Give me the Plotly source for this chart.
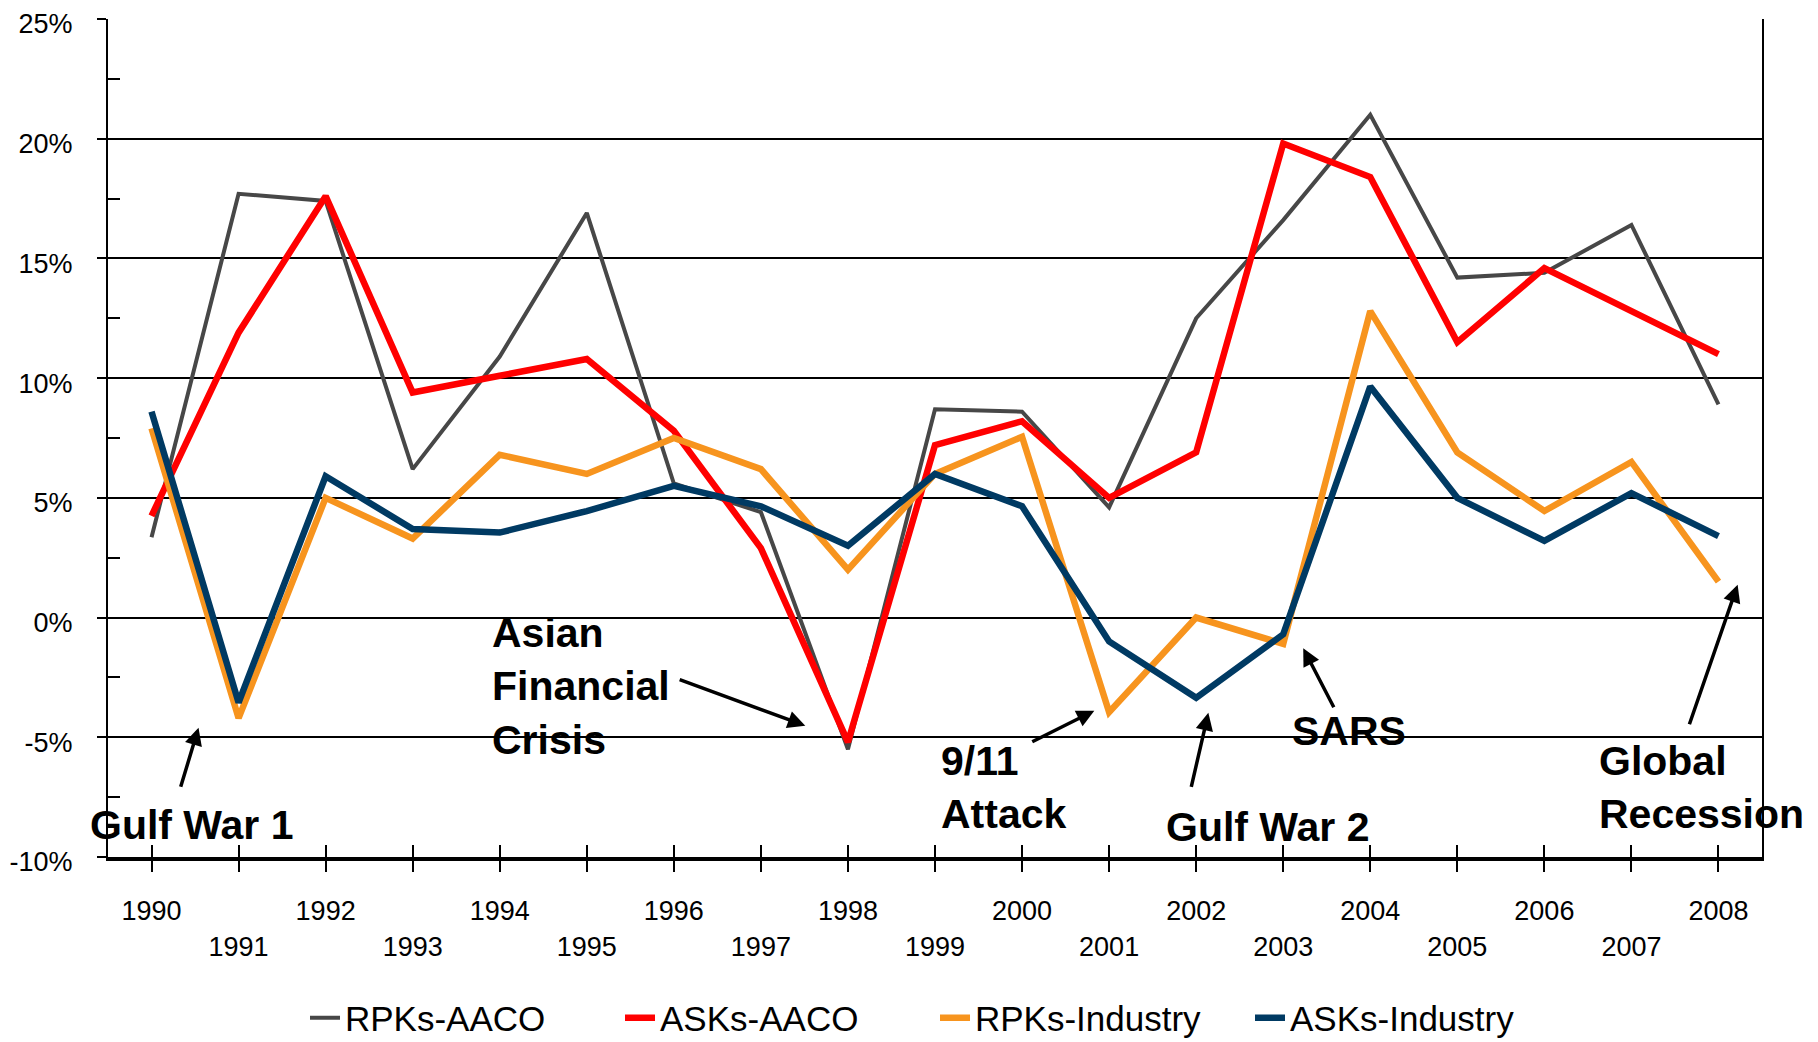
import plotly.graph_objects as go

YEARS = list(range(1990, 2009))

RPK_AACO = [3.35, 17.7, 17.4, 6.2, 10.9, 16.9, 5.6, 4.4, -5.5, 8.7, 8.6, 4.6,
            12.5, 16.6, 21.0, 14.2, 14.4, 16.4, 8.9]
ASK_AACO = [4.25, 11.9, 17.6, 9.4, 10.1, 10.8, 7.8, 2.9, -5.2, 7.2, 8.2, 5.0,
            6.9, 19.8, 18.4, 11.5, 14.6, 12.8, 11.0]
RPK_IND = [7.9, -4.2, 5.0, 3.3, 6.8, 6.0, 7.5, 6.2, 2.0, 6.0, 7.55, -3.95,
           0.0, -1.1, 12.8, 6.9, 4.45, 6.5, 1.5]
ASK_IND = [8.6, -3.55, 5.9, 3.7, 3.55, 4.45, 5.5, 4.65, 3.0, 6.0, 4.65, -1.0,
           -3.35, -0.7, 9.65, 5.0, 3.2, 5.2, 3.4]

SERIES = [
    ("RPKs-AACO", RPK_AACO, "#474747", 4),
    ("ASKs-AACO", ASK_AACO, "#FF0000", 6.5),
    ("RPKs-Industry", RPK_IND, "#F7941E", 6.5),
    ("ASKs-Industry", ASK_IND, "#003A63", 6.5),
]

Y_TICKS = [-10, -5, 0, 5, 10, 15, 20, 25]
Y_LABELS = [f"{v}%" for v in Y_TICKS]
X_LABELS = [str(y) if (y - 1990) % 2 == 0 else "<br>" + str(y) for y in YEARS]

# text, text x, text y, xanchor, arrow head (x, y), arrow tail (x, y)
EVENTS = [
    ("Gulf War 1", 1990.46, -8.66, "center", (1990.54, -4.6), (1990.33, -7.13)),
    ("Asian<br>Financial<br>Crisis", 1993.89, -2.86, "left", (1997.51, -4.52), (1996.05, -2.57)),
    ("9/11<br>Attack", 1999.05, -7.08, "left", (2000.83, -3.89), (2000.10, -5.22)),
    ("Gulf War 2", 2002.83, -8.74, "center", (2002.14, -3.98), (2001.94, -7.13)),
    ("SARS", 2003.76, -4.72, "center", (2003.23, -1.28), (2003.59, -3.81)),
    ("Global<br>Recession", 2006.6, -7.08, "left", (2008.22, 1.37), (2007.66, -4.52)),
]

FONT = "Liberation Sans, Arial, sans-serif"

fig = go.Figure()
for name, vals, cor, w in SERIES:
    fig.add_trace(go.Scatter(
        x=YEARS, y=vals, mode="lines", name=name,
        line=dict(color=cor, width=w),
        hovertemplate=f"<b>{name}</b><br>%{{x}}: %{{y:.1f}}%<extra></extra>",
    ))

# empty trace on an overlay axis, only there to draw the inside half of the x ticks
fig.add_trace(go.Scatter(x=YEARS, y=[None] * len(YEARS), xaxis="x2", showlegend=False,
                         hoverinfo="skip"))

for txt, tx, ty, xa, head, tail in EVENTS:
    fig.add_annotation(x=tx, y=ty, text=f"<b>{txt}</b>", showarrow=False,
                       xanchor=xa, yanchor="middle", align="left",
                       font=dict(family=FONT, size=41, color="black"))
    fig.add_annotation(x=head[0], y=head[1], ax=tail[0], ay=tail[1],
                       axref="x", ayref="y", text="", showarrow=True,
                       arrowhead=2, arrowsize=1, arrowwidth=3.5, arrowcolor="black")

# page body has an 8px margin, so the figure is placed 8px in from the window corner
fig.update_layout(
    width=1810, height=1050,
    margin=dict(l=100, r=56, t=11, b=196),
    plot_bgcolor="white", paper_bgcolor="white",
    showlegend=True,
    legend=dict(orientation="h", x=0.5, xanchor="center", y=-0.192, yanchor="middle",
                font=dict(family=FONT, size=35, color="black"),
                entrywidth=270, entrywidthmode="pixels",
                itemwidth=30, tracegroupgap=0),
    xaxis=dict(
        range=[1989.5, 2008.5], tickvals=YEARS, ticktext=X_LABELS,
        ticks="outside", ticklen=11, tickwidth=2, tickcolor="black",
        showline=True, linewidth=4, linecolor="black", showgrid=False,
        zeroline=False, tickangle=0, ticklabelstandoff=16, automargin=False,
        tickfont=dict(family=FONT, size=27, color="black"),
    ),
    xaxis2=dict(
        overlaying="x", matches="x", side="bottom", anchor="y",
        tickvals=YEARS, ticks="inside", ticklen=12, tickwidth=2, tickcolor="black",
        showticklabels=False, showgrid=False, zeroline=False, showline=False,
        automargin=False,
    ),
    yaxis=dict(
        range=[-10, 25], tickvals=Y_TICKS, ticktext=Y_LABELS,
        ticks="outside", ticklen=9, tickwidth=2, tickcolor="black",
        showgrid=True, gridcolor="black", gridwidth=2,
        showline=True, linewidth=2, linecolor="black", mirror=True,
        zeroline=False, ticklabelstandoff=19, ticklabelshift=5, automargin=False,
        ticklabeloverflow="allow",
        tickfont=dict(family=FONT, size=27, color="black"),
        minor=dict(tickvals=[-7.5, -2.5, 2.5, 7.5, 12.5, 17.5, 22.5], ticks="inside",
                   ticklen=12, tickwidth=2, tickcolor="black", showgrid=False),
    ),
)

fig.write_html("out.html")
